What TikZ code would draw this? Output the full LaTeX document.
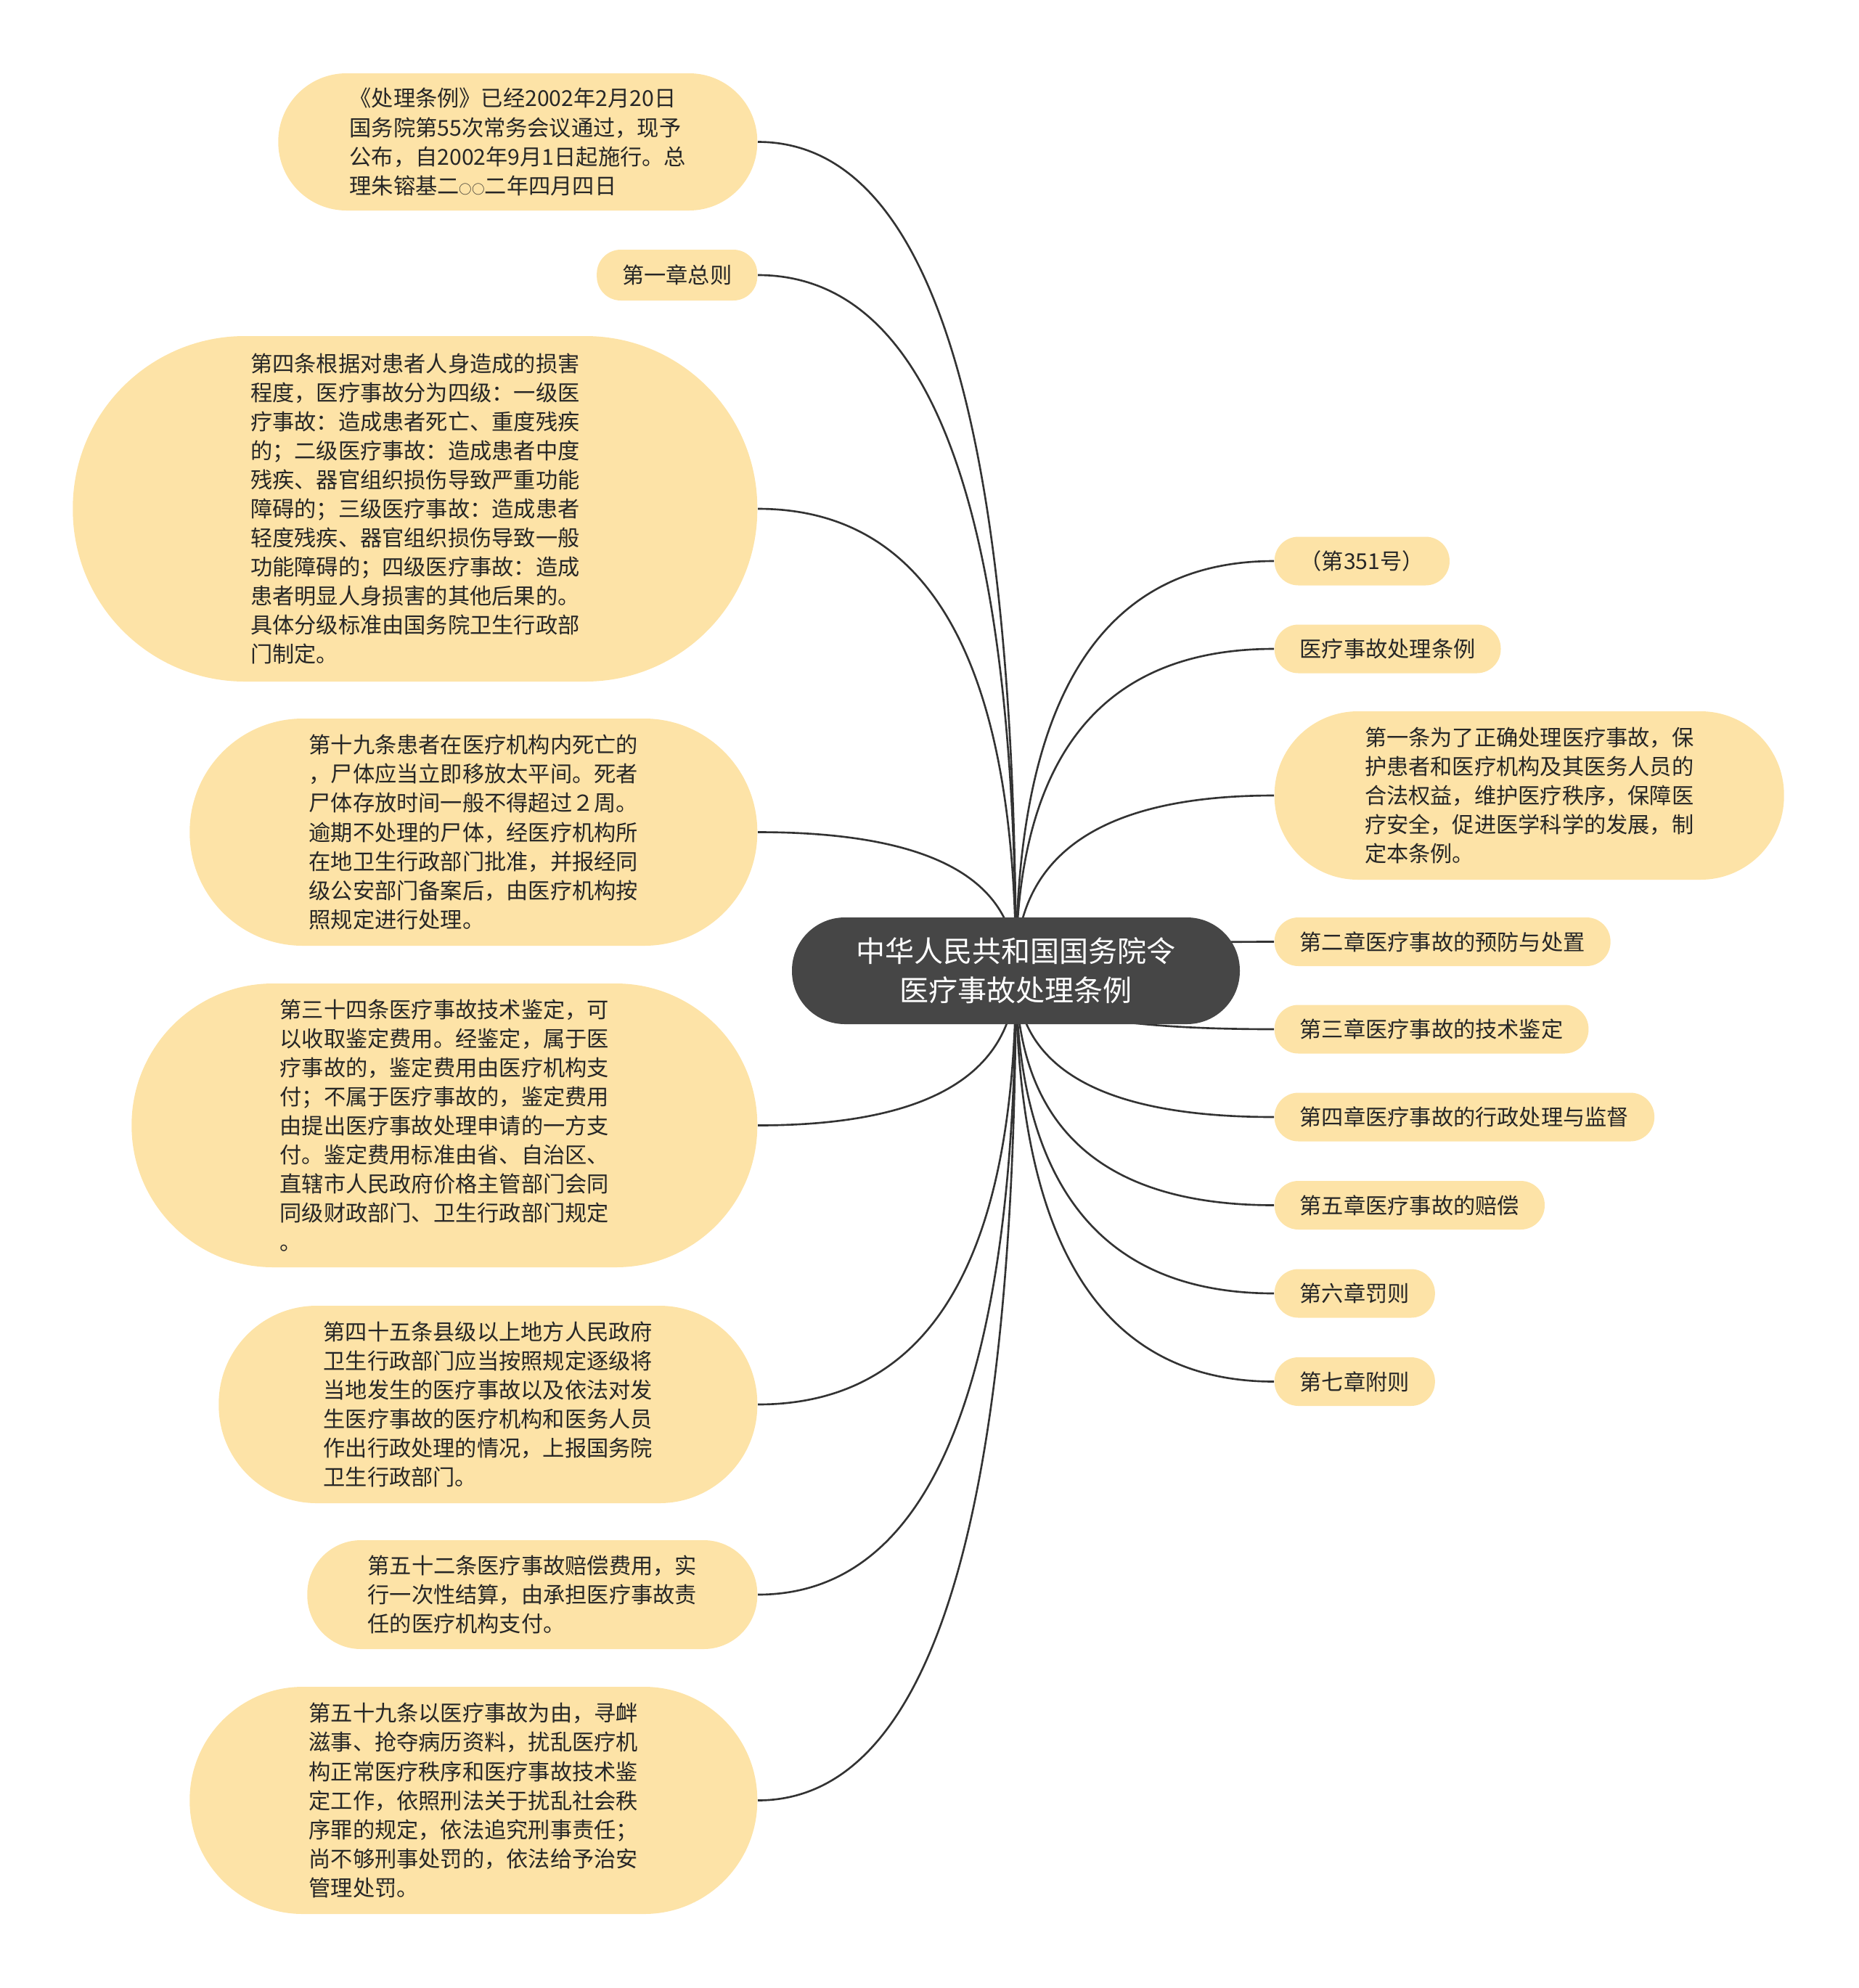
\documentclass[tikz,border=0pt]{standalone}
\usepackage{fontspec}
\setmainfont{Noto Sans CJK SC}
\usepackage{xcolor}
\usepackage{tikz}
\usetikzlibrary{calc,backgrounds}
\definecolor{MMLeaf}{HTML}{FDE3A7}
\definecolor{MMRoot}{HTML}{464646}
\definecolor{MMLine}{HTML}{333333}
\definecolor{MMText}{HTML}{262626}
\newcommand{\leaffont}{\fontsize{8.6pt}{11.4pt}\selectfont}
\newcommand{\rootfont}{\fontsize{11.4pt}{15.4pt}\selectfont}
\newcommand{\smallo}{{\fontsize{5pt}{5pt}\selectfont ○○}}
\tikzset{
  leaf/.style={fill=MMLeaf,text=MMText,font=\leaffont,align=left,inner xsep=0.35cm,inner ysep=0pt,rounded corners=#1},
  leaf/.default=0.33cm,
  link/.style={draw=MMLine,line width=0.75pt}
}

\begin{document}
\begin{tikzpicture}
\useasboundingbox (0,0) rectangle (25.6,-27.39);
\node[fill=MMRoot,text=white,font=\rootfont,align=center,rounded corners=0.73cm,minimum width=6.17cm,minimum height=1.47cm] (root) at (13.995,-13.375) {中华人民共和国国务院令\\医疗事故处理条例};

% left side
\node[leaf=0.94cm,minimum width=6.6cm,minimum height=1.89cm,anchor=east] (pub) at (10.44,-1.955) {《处理条例》已经2002年2月20日\\国务院第55次常务会议通过，现予\\公布，自2002年9月1日起施行。总\\理朱镕基二\smallo 二年四月四日};
\node[leaf,minimum height=0.70cm,anchor=east] (ch1) at (10.44,-3.79) {第一章总则};
\node[leaf=2.37cm,minimum width=9.43cm,minimum height=4.76cm,anchor=east] (art4) at (10.44,-7.01) {第四条根据对患者人身造成的损害\\程度，医疗事故分为四级：一级医\\疗事故：造成患者死亡、重度残疾\\的；二级医疗事故：造成患者中度\\残疾、器官组织损伤导致严重功能\\障碍的；三级医疗事故：造成患者\\轻度残疾、器官组织损伤导致一般\\功能障碍的；四级医疗事故：造成\\患者明显人身损害的其他后果的。\\具体分级标准由国务院卫生行政部\\门制定。};
\node[leaf=1.56cm,minimum width=7.82cm,minimum height=3.13cm,anchor=east] (art19) at (10.44,-11.465) {第十九条患者在医疗机构内死亡的\\，尸体应当立即移放太平间。死者\\尸体存放时间一般不得超过２周。\\逾期不处理的尸体，经医疗机构所\\在地卫生行政部门批准，并报经同\\级公安部门备案后，由医疗机构按\\照规定进行处理。};
\node[leaf=1.95cm,minimum width=8.62cm,minimum height=3.91cm,anchor=east] (art34) at (10.44,-15.505) {第三十四条医疗事故技术鉴定，可\\以收取鉴定费用。经鉴定，属于医\\疗事故的，鉴定费用由医疗机构支\\付；不属于医疗事故的，鉴定费用\\由提出医疗事故处理申请的一方支\\付。鉴定费用标准由省、自治区、\\直辖市人民政府价格主管部门会同\\同级财政部门、卫生行政部门规定\\。};
\node[leaf=1.35cm,minimum width=7.42cm,minimum height=2.72cm,anchor=east] (art45) at (10.44,-19.35) {第四十五条县级以上地方人民政府\\卫生行政部门应当按照规定逐级将\\当地发生的医疗事故以及依法对发\\生医疗事故的医疗机构和医务人员\\作出行政处理的情况，上报国务院\\卫生行政部门。};
\node[leaf=0.74cm,minimum width=6.2cm,minimum height=1.5cm,anchor=east] (art52) at (10.44,-21.97) {第五十二条医疗事故赔偿费用，实\\行一次性结算，由承担医疗事故责\\任的医疗机构支付。};
\node[leaf=1.56cm,minimum width=7.82cm,minimum height=3.13cm,anchor=east] (art59) at (10.44,-24.805) {第五十九条以医疗事故为由，寻衅\\滋事、抢夺病历资料，扰乱医疗机\\构正常医疗秩序和医疗事故技术鉴\\定工作，依照刑法关于扰乱社会秩\\序罪的规定，依法追究刑事责任；\\尚不够刑事处罚的，依法给予治安\\管理处罚。};

% right side
\foreach \n/\y/\lab in {no/-7.73/（第351号）,name/-8.94/医疗事故处理条例,ch2/-12.975/第二章医疗事故的预防与处置,ch3/-14.18/第三章医疗事故的技术鉴定,ch4/-15.39/第四章医疗事故的行政处理与监督,ch5/-16.605/第五章医疗事故的赔偿,ch6/-17.82/第六章罚则,ch7/-19.035/第七章附则} {
  \node[leaf,minimum height=0.67cm,anchor=west] (\n) at (17.55,\y) {\lab};
}
\node[leaf=1.15cm,minimum width=7.02cm,minimum height=2.32cm,anchor=west] (art1) at (17.55,-10.96) {第一条为了正确处理医疗事故，保\\护患者和医疗机构及其医务人员的\\合法权益，维护医疗秩序，保障医\\疗安全，促进医学科学的发展，制\\定本条例。};

\begin{scope}[on background layer]
\foreach \n/\a in {pub/east,ch1/east,art4/east,art19/east,art34/east,art45/east,art52/east,art59/east,no/west,name/west,art1/west,ch2/west,ch3/west,ch4/west,ch5/west,ch6/west,ch7/west}
  \draw[link] (root.center) .. controls ($(root.center)!0.667!(root.center |- \n.\a)$) and ($(\n.\a)!0.667!(root.center |- \n.\a)$) .. (\n.\a);
\end{scope}
\end{tikzpicture}
\end{document}
